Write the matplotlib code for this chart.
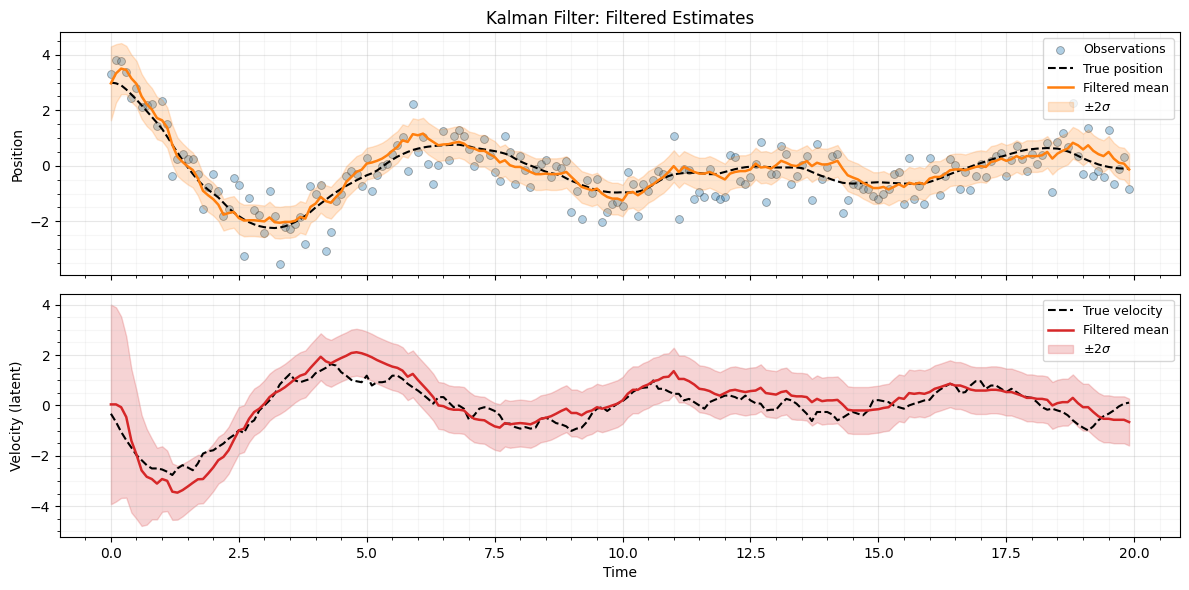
import numpy as np
import matplotlib as mpl

mpl.use("Agg")
import matplotlib.pyplot as plt

# time grid: 200 steps of 0.1
dt = 0.1
n_steps = 200
time = np.arange(n_steps) * dt

# noisy position observations
observations = [
    3.29, 3.81, 3.77, 3.39, 2.46, 2.82, 2.12, 2.20, 2.22, 1.45,
    2.33, 1.50, -0.37, 0.26, 0.41, 0.24, 0.23, -0.28, -1.54, -0.75,
    -0.30, -0.92, -1.82, -1.57, -0.45, -0.70, -3.25, -1.16, -1.60, -1.76,
    -2.41, -0.89, -1.82, -3.55, -2.20, -2.29, -2.11, -1.86, -2.83, -0.73,
    -1.00, -0.70, -3.07, -2.39, -1.26, -1.03, -0.36, -0.20, -0.30, -0.73,
    0.28, -0.89, -0.34, 0.00, 0.06, 0.44, 0.74, 1.04, -0.19, 2.22,
    0.50, 1.04, 0.08, -0.64, 0.02, 1.25, 0.20, 1.09, 1.28, 1.09,
    0.59, -0.01, 0.28, 0.96, 0.40, -0.24, -0.56, 1.09, 0.50, -0.64,
    0.35, -0.16, -0.78, -0.13, 0.08, 0.20, -0.40, -0.01, -0.07, 0.17,
    -1.68, -0.92, -1.90, -0.52, -0.97, -0.48, -2.04, -1.68, -1.39, -1.31,
    -1.45, -0.24, -0.64, -1.79, -0.64, -0.90, -0.52, -0.19, -0.28, -0.37,
    1.07, -1.90, -0.10, -0.16, -1.18, -0.96, -1.12, -0.10, -1.08, -1.21,
    -1.12, 0.38, 0.30, -0.55, -0.64, -0.40, 0.08, 0.85, -1.31, -0.28,
    -0.28, 0.71, 0.44, -0.66, -0.36, 0.02, 0.37, -1.24, 0.80, -0.46,
    -0.06, 0.35, 0.44, -1.70, -1.24, -0.66, -0.70, -0.85, -0.83, -1.09,
    -1.21, -1.02, -0.84, -0.30, -0.24, -1.38, 0.28, -1.21, -0.73, -1.38,
    0.28, -0.13, -1.06, -0.36, 0.25, 0.04, -0.85, -0.22, -0.88, -0.36,
    0.08, -0.40, 0.17, 0.35, 0.47, -0.37, 0.20, 0.71, 0.26, -0.19,
    0.42, 0.08, 0.38, 0.83, -0.96, 0.86, 1.19, 0.68, 2.27, 0.35,
    -0.30, 1.37, -0.35, -0.18, -0.42, 1.28, -0.64, -0.13, 0.31, -0.82,
]

true_position = [
    3.00, 2.97, 2.90, 2.75, 2.57, 2.38, 2.18, 1.97, 1.76, 1.55,
    1.33, 1.05, 0.76, 0.48, 0.20, -0.05, -0.29, -0.52, -0.70, -0.86,
    -1.00, -1.14, -1.33, -1.52, -1.68, -1.81, -1.93, -2.03, -2.11, -2.17,
    -2.21, -2.23, -2.24, -2.22, -2.18, -2.11, -2.02, -1.92, -1.80, -1.66,
    -1.50, -1.36, -1.22, -1.08, -0.95, -0.83, -0.72, -0.62, -0.52, -0.43,
    -0.34, -0.27, -0.17, -0.04, 0.10, 0.22, 0.33, 0.42, 0.50, 0.57,
    0.62, 0.66, 0.69, 0.71, 0.73, 0.74, 0.75, 0.76, 0.76, 0.73,
    0.69, 0.65, 0.62, 0.59, 0.56, 0.53, 0.49, 0.44, 0.37, 0.26,
    0.16, 0.08, 0.01, -0.06, -0.14, -0.21, -0.26, -0.30, -0.35, -0.45,
    -0.54, -0.61, -0.69, -0.75, -0.82, -0.87, -0.91, -0.94, -0.96, -0.96,
    -0.95, -0.96, -0.95, -0.93, -0.88, -0.79, -0.68, -0.56, -0.45, -0.37,
    -0.31, -0.28, -0.26, -0.25, -0.25, -0.26, -0.28, -0.30, -0.30, -0.27,
    -0.22, -0.17, -0.12, -0.08, -0.05, -0.03, -0.02, -0.02, -0.04, -0.05,
    -0.06, -0.06, -0.06, -0.06, -0.06, -0.08, -0.14, -0.22, -0.30, -0.37,
    -0.43, -0.50, -0.56, -0.61, -0.63, -0.64, -0.63, -0.62, -0.61, -0.60,
    -0.59, -0.60, -0.61, -0.62, -0.63, -0.64, -0.64, -0.64, -0.64, -0.62,
    -0.58, -0.52, -0.45, -0.38, -0.30, -0.23, -0.16, -0.09, -0.03, 0.04,
    0.10, 0.16, 0.22, 0.28, 0.33, 0.38, 0.44, 0.49, 0.54, 0.58,
    0.60, 0.62, 0.63, 0.64, 0.63, 0.62, 0.58, 0.52, 0.45, 0.36,
    0.27, 0.19, 0.12, 0.05, 0.00, -0.04, -0.07, -0.09, -0.10, -0.10,
]

filtered_position = [
    2.97, 3.33, 3.50, 3.45, 3.15, 2.95, 2.50, 2.22, 2.03, 1.72,
    1.64, 1.38, 0.76, 0.33, 0.14, -0.02, -0.15, -0.45, -0.90, -1.06,
    -1.20, -1.40, -1.76, -1.70, -1.66, -1.88, -1.97, -1.96, -1.96, -1.98,
    -2.00, -1.86, -2.03, -2.05, -2.02, -2.02, -1.98, -1.84, -1.90, -1.48,
    -1.36, -1.12, -1.27, -1.33, -1.12, -0.94, -0.58, -0.40, -0.22, -0.14,
    0.08, 0.12, 0.18, 0.26, 0.38, 0.54, 0.68, 0.92, 0.86, 1.14,
    1.10, 1.16, 0.98, 0.86, 0.74, 0.77, 0.78, 0.83, 0.86, 0.80,
    0.66, 0.62, 0.54, 0.54, 0.42, 0.32, 0.12, 0.20, 0.02, -0.04,
    -0.04, -0.13, -0.22, -0.30, -0.30, -0.28, -0.30, -0.30, -0.28, -0.22,
    -0.40, -0.58, -0.76, -0.82, -0.88, -0.82, -1.00, -1.12, -1.18, -1.18,
    -1.25, -0.98, -0.94, -1.06, -0.94, -0.76, -0.66, -0.52, -0.40, -0.22,
    -0.01, -0.22, -0.04, -0.13, -0.22, -0.28, -0.28, -0.22, -0.30, -0.40,
    -0.49, -0.28, -0.22, -0.19, -0.19, -0.13, 0.08, -0.06, -0.04, -0.10,
    0.02, 0.18, 0.11, 0.02, -0.01, 0.08, 0.17, -0.01, 0.11, 0.05,
    0.05, 0.11, 0.18, -0.10, -0.34, -0.42, -0.49, -0.61, -0.70, -0.80,
    -0.80, -0.76, -0.85, -0.76, -0.66, -0.76, -0.61, -0.66, -0.61, -0.66,
    -0.46, -0.40, -0.40, -0.30, -0.16, -0.13, -0.13, -0.16, -0.10, -0.04,
    -0.01, -0.04, 0.14, 0.18, 0.26, 0.18, 0.24, 0.35, 0.26, 0.35,
    0.35, 0.35, 0.38, 0.50, 0.26, 0.44, 0.54, 0.62, 0.83, 0.74,
    0.59, 0.74, 0.54, 0.42, 0.35, 0.50, 0.26, 0.11, 0.08, -0.13,
]

# two-sigma half width of the position estimate
position_2sigma = [
    1.33, 1.05, 0.92, 0.87, 0.85, 0.83, 0.81, 0.79, 0.77, 0.76,
    0.75, 0.73, 0.71, 0.69, 0.67, 0.65, 0.63, 0.62, 0.61, 0.60,
    0.59, 0.58,
] + [0.57] * 178

true_velocity = [
    -0.33, -0.66, -1.05, -1.38, -1.67, -1.97, -2.17, -2.37, -2.50, -2.50,
    -2.54, -2.63, -2.76, -2.50, -2.37, -2.46, -2.57, -2.30, -1.91, -1.82,
    -1.78, -1.64, -1.51, -1.32, -1.18, -0.99, -1.09, -0.72, -0.59, -0.20,
    0.00, 0.20, 0.46, 0.83, 1.05, 1.25, 0.99, 0.92, 0.99, 1.05,
    1.28, 1.38, 1.49, 1.64, 1.58, 1.32, 1.18, 1.01, 0.96, 0.92,
    1.18, 0.79, 0.92, 0.92, 0.96, 1.18, 1.18, 1.05, 0.86, 0.72,
    0.59, 0.43, 0.26, 0.07, 0.33, 0.33, 0.13, -0.07, 0.00, -0.13,
    -0.57, -0.39, -0.13, -0.07, -0.13, -0.22, -0.39, -0.72, -0.72, -0.86,
    -0.92, -0.86, -0.92, -0.88, -0.53, -0.49, -0.57, -0.70, -0.75, -0.83,
    -1.01, -0.92, -0.88, -0.66, -0.33, -0.13, -0.07, -0.22, -0.07, 0.07,
    0.17, 0.33, 0.53, 0.66, 0.70, 0.72, 0.99, 0.66, 0.66, 0.55,
    0.46, 0.46, 0.20, 0.26, 0.13, 0.00, -0.13, 0.13, 0.22, 0.30,
    0.39, 0.39, 0.33, 0.22, 0.39, 0.20, 0.09, 0.07, -0.20, -0.17,
    -0.17, 0.07, 0.26, 0.20, 0.07, -0.13, -0.33, -0.62, -0.26, -0.26,
    -0.26, -0.36, -0.59, -0.49, -0.36, -0.26, -0.33, -0.39, -0.20, 0.20,
    0.21, 0.17, 0.13, 0.00, -0.07, -0.13, 0.00, 0.07, 0.13, 0.20,
    0.22, 0.46, 0.62, 0.75, 0.86, 0.79, 0.49, 0.53, 0.79, 0.96,
    0.96, 0.66, 0.79, 0.79, 0.66, 0.53, 0.66, 0.53, 0.39, 0.33,
    0.30, 0.13, -0.07, -0.17, -0.13, -0.20, -0.26, -0.39, -0.59, -0.75,
    -0.88, -0.99, -0.83, -0.59, -0.43, -0.33, -0.20, -0.04, 0.07, 0.11,
]

filtered_velocity = [
    0.04, 0.04, -0.07, -0.46, -1.40, -1.95, -2.58, -2.83, -2.92, -3.10,
    -2.92, -2.99, -3.42, -3.46, -3.36, -3.22, -3.07, -2.93, -2.92, -2.70,
    -2.46, -2.17, -2.04, -1.78, -1.38, -0.99, -0.92, -0.53, -0.26, -0.13,
    0.07, 0.33, 0.49, 0.59, 0.72, 0.88, 1.05, 1.18, 1.25, 1.49,
    1.71, 1.93, 1.75, 1.67, 1.78, 1.88, 1.97, 2.08, 2.11, 2.07,
    2.00, 1.91, 1.80, 1.71, 1.62, 1.54, 1.49, 1.38, 1.14, 1.25,
    1.01, 0.79, 0.57, 0.33, 0.00, -0.03, -0.13, -0.17, -0.17, -0.20,
    -0.39, -0.53, -0.57, -0.59, -0.72, -0.83, -0.88, -0.70, -0.75, -0.72,
    -0.70, -0.72, -0.75, -0.66, -0.53, -0.49, -0.43, -0.33, -0.22, -0.13,
    -0.30, -0.30, -0.39, -0.26, -0.20, -0.07, -0.13, -0.07, 0.00, 0.07,
    0.20, 0.46, 0.62, 0.62, 0.75, 0.83, 0.96, 1.01, 1.12, 1.14,
    1.36, 1.05, 1.05, 0.96, 0.83, 0.66, 0.63, 0.57, 0.46, 0.39,
    0.49, 0.59, 0.62, 0.57, 0.53, 0.57, 0.59, 0.70, 0.49, 0.46,
    0.43, 0.53, 0.57, 0.39, 0.36, 0.36, 0.33, 0.13, 0.26, 0.17,
    0.20, 0.20, 0.22, 0.04, -0.17, -0.20, -0.20, -0.20, -0.20, -0.17,
    -0.15, -0.10, -0.07, 0.13, 0.30, 0.26, 0.49, 0.46, 0.49, 0.46,
    0.53, 0.66, 0.72, 0.79, 0.86, 0.79, 0.79, 0.72, 0.63, 0.59,
    0.59, 0.59, 0.62, 0.62, 0.59, 0.53, 0.53, 0.46, 0.39, 0.30,
    0.30, 0.26, 0.26, 0.22, 0.00, 0.09, 0.13, 0.13, 0.30, 0.09,
    -0.07, -0.07, -0.26, -0.43, -0.53, -0.53, -0.57, -0.57, -0.57, -0.66,
]

# two-sigma half width of the velocity estimate
velocity_2sigma = [
    3.96, 3.85, 3.60, 3.20, 2.85, 2.55, 2.20, 1.90, 1.60, 1.42,
    1.30, 1.20, 1.12, 1.07, 1.04, 1.01, 0.99, 0.97, 0.96, 0.95,
    0.94,
] + [0.93] * 179

obs = np.array(observations)
pos_true = np.array(true_position)
pos_mean = np.array(filtered_position)
pos_sd2 = np.array(position_2sigma)
vel_true = np.array(true_velocity)
vel_mean = np.array(filtered_velocity)
vel_sd2 = np.array(velocity_2sigma)

fig, (ax1, ax2) = plt.subplots(2, 1, figsize=(11.89, 5.9), sharex=True)

ax1.scatter(time, obs, s=32, color="tab:blue", alpha=0.35, edgecolors="k",
            linewidths=0.6, label="Observations")
ax1.plot(time, pos_true, "k--", lw=1.5, label="True position")
ax1.plot(time, pos_mean, color="tab:orange", lw=1.8, label="Filtered mean")
ax1.fill_between(time, pos_mean - pos_sd2, pos_mean + pos_sd2,
                 color="tab:orange", alpha=0.2, label=r"$\pm 2\sigma$")
ax1.set_ylabel("Position")
ax1.set_title("Kalman Filter: Filtered Estimates")
ax1.legend(loc="upper right", fontsize=9)

ax2.plot(time, vel_true, "k--", lw=1.5, label="True velocity")
ax2.plot(time, vel_mean, color="tab:red", lw=1.8, label="Filtered mean")
ax2.fill_between(time, vel_mean - vel_sd2, vel_mean + vel_sd2,
                 color="tab:red", alpha=0.2, label=r"$\pm 2\sigma$")
ax2.set_ylabel("Velocity (latent)")
ax2.set_xlabel("Time")
ax2.legend(loc="upper right", fontsize=9)

for ax in (ax1, ax2):
    ax.minorticks_on()
    ax.grid(True, which="major", alpha=0.3)
    ax.grid(True, which="minor", alpha=0.1)

W, H = 1189, 590
fig.subplots_adjust(left=60 / W, right=1180 / W, top=1 - 32 / H,
                    bottom=1 - 537 / H, hspace=18 / 243)
fig.savefig("out.png", dpi=100)
